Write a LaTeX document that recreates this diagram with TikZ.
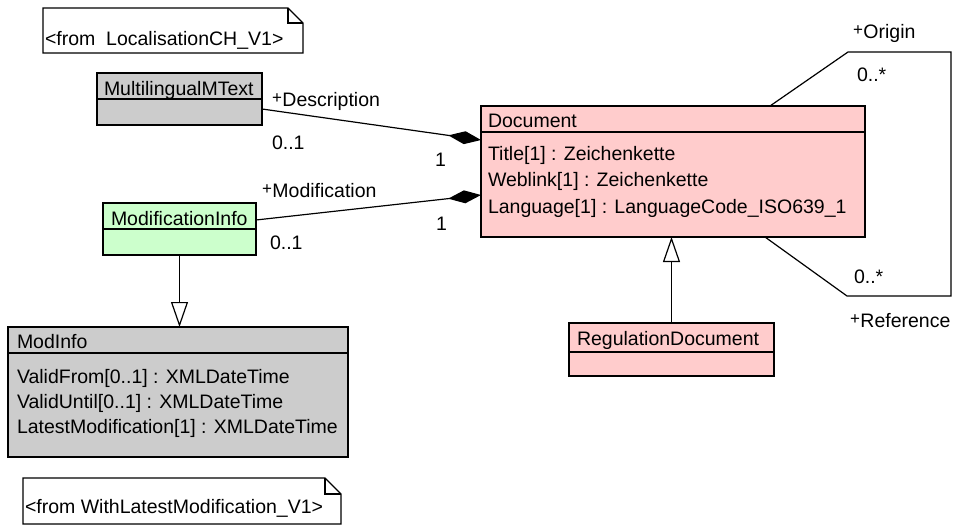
\documentclass[tikz,border=0pt]{standalone}
\usepackage{fontspec}
\setmainfont{Liberation Sans}
\usetikzlibrary{arrows.meta}
\definecolor{clspink}{HTML}{FFCCCC}
\definecolor{clsgreen}{HTML}{CCFFCC}
\definecolor{clsgray}{HTML}{CCCCCC}
\newcommand{\umlplus}{\raisebox{2.5pt}{\fontsize{17}{17}\selectfont +}\hspace{0.5pt}}
\begin{document}
\begin{tikzpicture}[x=1pt,y=-1pt,
  font=\fontsize{19.5}{22}\selectfont,
  classbox/.style={draw=black, line width=1.5pt, anchor=north west, inner sep=0pt, outer sep=0pt},
  txt/.style={anchor=base west, inner sep=0pt, outer sep=0pt},
  sepline/.style={line width=1.5pt},
  assoc/.style={line width=1.2pt},
  comp/.style={line width=1.2pt, -{Diamond[length=33pt,width=13pt,fill=black]}},
  gen/.style={line width=1.2pt, -{Triangle[open,length=25pt,width=17pt,fill=white]}},
  notebox/.style={line width=1.2pt, draw=black, fill=white}
]
\useasboundingbox (0,0) rectangle (956,525);

% Note 1
\draw[notebox] (43,8) -- (288,8) -- (303,23) -- (303,53) -- (43,53) -- cycle;
\draw[line width=1.2pt] (288,8) -- (288,23) -- (303,23);
\node[txt] (note1) at (45,45) {<from\ \ LocalisationCH\_V1>};

% Note 2
\draw[notebox] (23,478) -- (325,478) -- (341,494) -- (341,524) -- (23,524) -- cycle;
\draw[line width=1.2pt] (325,478) -- (325,494) -- (341,494);
\node[txt] (note2) at (25,513) {<from WithLatestModification\_V1>};

% MultilingualMText
\node[classbox, fill=clsgray, minimum width=165pt, minimum height=52pt] (mm) at (97,73) {};
\draw[sepline] ([yshift=-26pt]mm.north west) -- ([yshift=-26pt]mm.north east);
\node[txt] (mmname) at (104,95) {MultilingualMText};

% ModificationInfo
\node[classbox, fill=clsgreen, minimum width=153pt, minimum height=52pt] (mi) at (103,203) {};
\draw[sepline] ([yshift=-26pt]mi.north west) -- ([yshift=-26pt]mi.north east);
\node[txt] (miname) at (111,225) {ModificationInfo};

% ModInfo
\node[classbox, fill=clsgray, minimum width=340pt, minimum height=130pt] (modinfo) at (8,327) {};
\draw[sepline] ([yshift=-26pt]modinfo.north west) -- ([yshift=-26pt]modinfo.north east);
\node[txt] (modname) at (17,348) {ModInfo};
\node[txt] (moda) at (17,383) {ValidFrom[0..1] : XMLDateTime};
\node[txt] (modb) at (17,408) {ValidUntil[0..1] : XMLDateTime};
\node[txt] (modc) at (17,433) {LatestModification[1] : XMLDateTime};

% Document
\node[classbox, fill=clspink, minimum width=384pt, minimum height=131pt] (doc) at (481,106) {};
\draw[sepline] ([yshift=-26pt]doc.north west) -- ([yshift=-26pt]doc.north east);
\node[txt] (docname) at (488,127) {Document};
\node[txt] (doca) at (488,160) {Title[1] : Zeichenkette};
\node[txt] (docb) at (488,186.5) {Weblink[1] : Zeichenkette};
\node[txt] (docc) at (488,213) {Language[1] : LanguageCode\_ISO639\_1};

% RegulationDocument
\node[classbox, fill=clspink, minimum width=205pt, minimum height=53pt] (rd) at (569,323) {};
\draw[sepline] ([yshift=-29pt]rd.north west) -- ([yshift=-29pt]rd.north east);
\node[txt] (rdname) at (577,345) {RegulationDocument};

% Compositions
\draw[comp] ([yshift=-10pt]mm.east) -- ([yshift=31.5pt]doc.west);
\draw[comp] ([yshift=9pt]mi.east) -- ([yshift=-23.5pt]doc.west);

% Generalizations
\draw[gen] (mi.south) -- (mi.south |- modinfo.north);
\draw[gen] (rd.north) -- (rd.north |- doc.south);

% Self association
\coordinate (s1) at (848,52);
\coordinate (s2) at (951,52);
\coordinate (s3) at (951,296);
\coordinate (s4) at (847,296);
\draw[assoc] (770,0 |- doc.north) -- (s1) -- (s2) -- (s3) -- (s4) -- (765,0 |- doc.south);

% Labels
\node[txt] (ldesc) at (272,106) {\umlplus Description};
\node[txt] (ldm1) at (272,149) {0..1};
\node[txt] (ldm2) at (435,166) {1};
\node[txt] (lmod) at (262,197) {\umlplus Modification};
\node[txt] (lmm1) at (436,230) {1};
\node[txt] (lmm2) at (270,249) {0..1};
\node[txt] (lorig) at (853,38) {\umlplus Origin};
\node[txt] (lom) at (857,81) {0..*};
\node[txt] (lrm) at (854,283) {0..*};
\node[txt] (lref) at (850,327) {\umlplus Reference};
\end{tikzpicture}
\end{document}
